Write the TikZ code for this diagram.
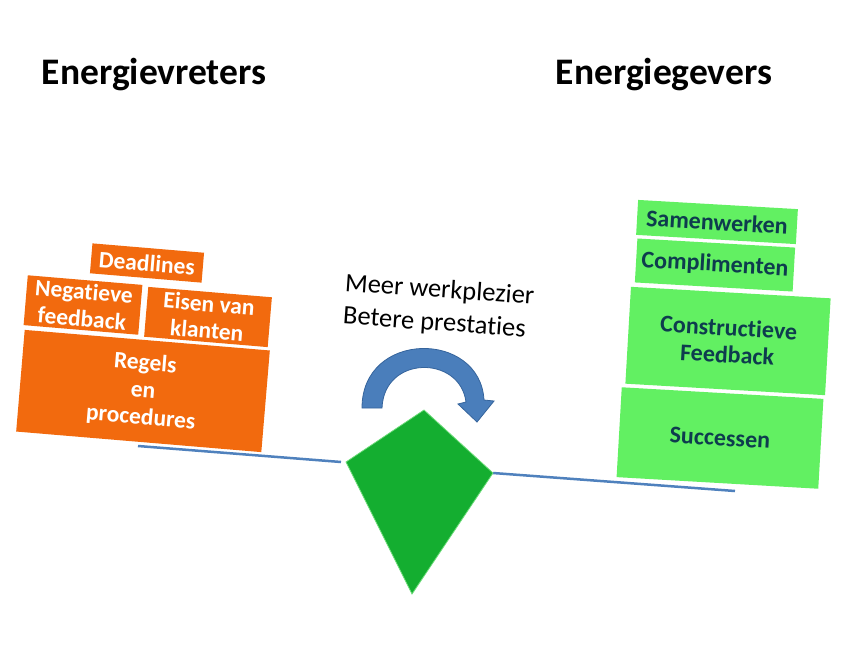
\documentclass[tikz,border=0pt]{standalone}
\usepackage{fontspec}
\setmainfont{Carlito}[Ligatures=NoCommon]
\definecolor{orangebox}{HTML}{F26A0E}
\definecolor{greenbox}{HTML}{62F062}
\definecolor{greentext}{HTML}{0E3C4E}
\definecolor{kitegreen}{HTML}{14AE30}
\definecolor{beamblue}{HTML}{4F81BD}
\definecolor{arrowblue}{HTML}{4A7EBB}
\definecolor{arrowdark}{HTML}{35649C}
\begin{document}
\begin{tikzpicture}[x=1pt,y=-1pt,
  title/.style={font=\bfseries\fontsize{37.5}{40}\selectfont, text=black, inner sep=0},
  obox/.style={fill=orangebox, text=white, font=\bfseries\fontsize{23.5}{27}\selectfont, align=center, inner sep=0, rotate=-4.8},
  gbox/.style={fill=greenbox, text=greentext, font=\bfseries\fontsize{24}{27}\selectfont, align=center, inner sep=0, rotate=-3.3},
  mid/.style={font=\fontsize{26.5}{31}\selectfont, anchor=west, rotate=-4, inner sep=0},
  beam/.style={draw=beamblue, line width=2.5pt}]
\useasboundingbox (0,0) rectangle (864,648);
\fill[white] (0,0) rectangle (864,648);
% titles
\node[title] (tl) at (154,75) {Energievreters};
\node[title] (tr) at (664,75) {Energiegevers};
% left stack
\node[obox, minimum width=112, minimum height=30] (dead) at (147,263) {Deadlines};
\node[obox, minimum width=115, minimum height=50] (neg) at (83,305) {Negatieve\\feedback};
\node[obox, minimum width=124, minimum height=50] (eis) at (208,317) {Eisen van\\klanten};
\node[obox, minimum width=246, minimum height=102] (reg) at (143,391) {Regels\\en\\procedures};
% right stack
\node[gbox, minimum width=160, minimum height=35] (sam) at (717,222) {Samenwerken};
\node[gbox, minimum width=158, minimum height=44] (comp) at (715,265) {Complimenten};
\node[gbox, minimum width=200, minimum height=97] (cons) at (728,341) {Constructieve\\Feedback};
\node[gbox, minimum width=202, minimum height=90] (succ) at (720,438) {Successen};
% beam
\coordinate (bl1) at (138,446);
\coordinate (bl2) at (341,462);
\coordinate (br1) at (493,473);
\coordinate (br2) at (735,491);
\draw[beam] (bl1) -- (bl2);
\draw[beam] (br1) -- (br2);
% kite
\coordinate (kt) at (424,410);
\coordinate (kl) at (346,462);
\coordinate (kr) at (493,473);
\coordinate (kb) at (412,594);
\filldraw[fill=kitegreen, draw=kitegreen!70!green!60!white, line width=0.8pt] (kt) -- (kr) -- (kb) -- (kl) -- cycle;
% curved arrow
\filldraw[fill=arrowblue, draw=arrowdark, line width=0.8pt]
  (362,408) .. controls (362,330) and (480,330) .. (484,400)
  -- (494,401) -- (477,422) -- (458,404) -- (466,402)
  .. controls (460,355) and (384,355) .. (382,408) -- cycle;
% text
\node[mid] (t1) at (345,284) {Meer werkplezier};
\node[mid] (t2) at (343,317) {Betere prestaties};
\end{tikzpicture}
\end{document}
